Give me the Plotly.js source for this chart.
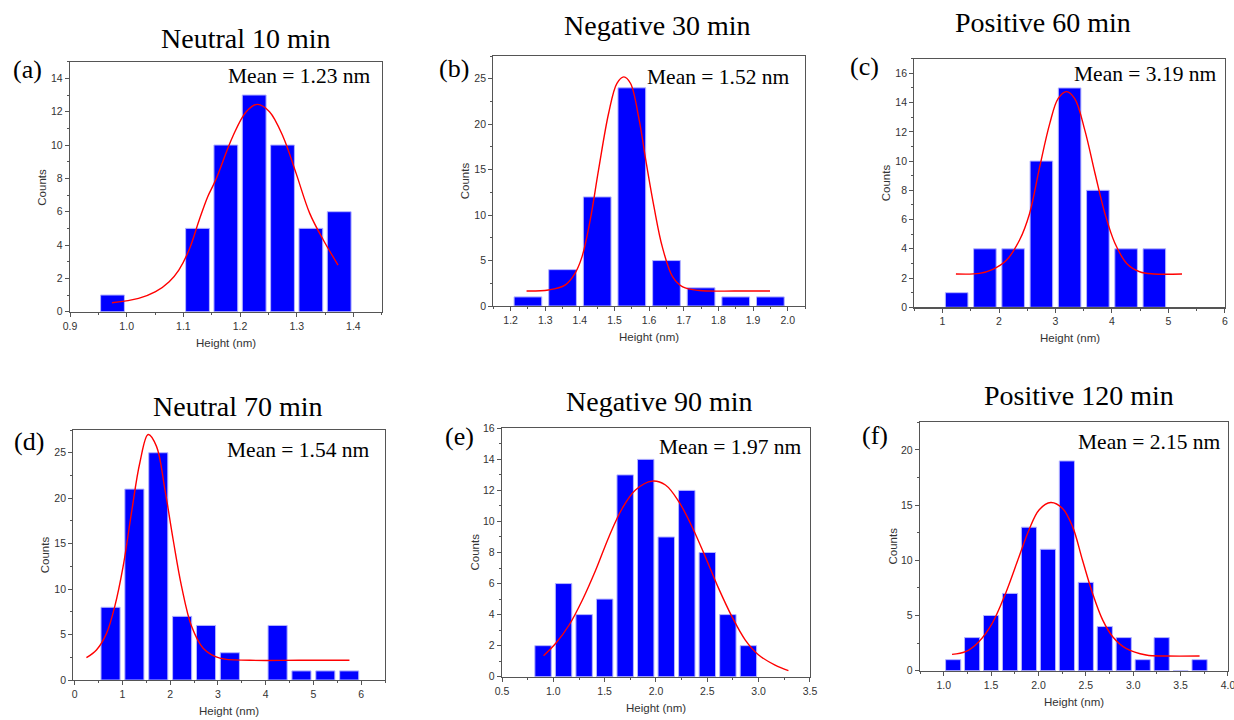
<!DOCTYPE html>
<html>
<head>
<meta charset="utf-8">
<script src="https://cdn.plot.ly/plotly-3.0.1.min.js"></script>
<style>html,body{margin:0;padding:0;background:#fff;}#chart{width:1234px;height:720px;}</style>
</head>
<body>
<div id="chart"></div>
<script>
// ---------- DATA ----------
const panelTitles = ["Neutral 10 min", "Negative 30 min", "Positive 60 min", "Neutral 70 min", "Negative 90 min", "Positive 120 min"];
const panelLetters = ["(a)", "(b)", "(c)", "(d)", "(e)", "(f)"];
const meanLabels = ["Mean = 1.23 nm", "Mean = 1.52 nm", "Mean = 3.19 nm", "Mean = 1.54 nm", "Mean = 1.97 nm", "Mean = 2.15 nm"];

const binsA = [0.975, 1.125, 1.175, 1.225, 1.275, 1.325, 1.375];
const countsA = [1, 5, 10, 13, 10, 5, 6];
const fitXA = [0.974, 1.021, 1.051, 1.075, 1.092, 1.11, 1.128, 1.143, 1.157, 1.187, 1.211, 1.231, 1.252, 1.276, 1.299, 1.323, 1.347, 1.373];
const fitYA = [0.54, 0.80, 1.2, 1.8, 2.5, 3.7, 5.5, 6.9, 7.9, 10.5, 12.0, 12.44, 12.0, 10.5, 8.3, 5.9, 4.3, 2.8];

const binsB = [1.25, 1.35, 1.45, 1.55, 1.65, 1.75, 1.85, 1.95];
const countsB = [1, 4, 12, 24, 5, 2, 1, 1];
const fitXB = [1.246, 1.309, 1.357, 1.386, 1.406, 1.43, 1.454, 1.483, 1.507, 1.527, 1.546, 1.571, 1.59, 1.614, 1.638, 1.668, 1.697, 1.745, 1.85, 1.949];
const fitYB = [1.65, 1.76, 2.3, 3.6, 5.4, 9.5, 15.0, 21.2, 24.5, 25.2, 24.5, 20.5, 16.1, 10.9, 6.5, 3.2, 2.1, 1.7, 1.65, 1.65];

const binsC = [1.25, 1.75, 2.25, 2.75, 3.25, 3.75, 4.25, 4.75];
const countsC = [1, 4, 4, 10, 15, 8, 4, 4];
const fitXC = [1.237, 1.652, 1.89, 2.127, 2.364, 2.54, 2.72, 2.898, 3.046, 3.195, 3.34, 3.52, 3.70, 3.876, 4.05, 4.26, 4.49, 4.74, 5.24];
const fitYC = [2.28, 2.32, 2.6, 3.2, 4.6, 6.4, 9.6, 12.56, 14.27, 14.75, 14.27, 12.1, 9.15, 6.4, 4.4, 3.0, 2.43, 2.28, 2.28];

const binsD = [0.75, 1.25, 1.75, 2.25, 2.75, 3.25, 4.25, 4.75, 5.25, 5.75];
const countsD = [8, 21, 25, 7, 6, 3, 6, 1, 1, 1];
const fitXD = [0.245, 0.455, 0.664, 0.839, 1.014, 1.189, 1.364, 1.538, 1.713, 1.888, 2.063, 2.238, 2.448, 2.69, 3.04, 3.67, 4.7, 5.755];
const fitYD = [2.46, 3.3, 5.1, 8.1, 12.5, 18.4, 23.9, 27.0, 25.7, 21.0, 15.4, 10.3, 5.9, 3.5, 2.4, 2.17, 2.17, 2.17];

const binsE = [0.9, 1.1, 1.3, 1.5, 1.7, 1.9, 2.1, 2.3, 2.5, 2.7, 2.9];
const countsE = [2, 6, 4, 5, 13, 14, 9, 12, 8, 4, 2];
const fitXE = [0.905, 1.024, 1.154, 1.283, 1.413, 1.542, 1.672, 1.80, 1.963, 2.092, 2.222, 2.351, 2.48, 2.61, 2.74, 2.87, 3.0, 3.16, 3.29];
const fitYE = [1.35, 2.15, 3.33, 4.94, 6.87, 9.02, 10.85, 12.03, 12.6, 12.35, 11.28, 9.66, 7.73, 5.69, 3.87, 2.36, 1.4, 0.75, 0.39];

const binsF = [1.1, 1.3, 1.5, 1.7, 1.9, 2.1, 2.3, 2.5, 2.7, 2.9, 3.1, 3.3, 3.5, 3.7];
const countsF = [1, 3, 5, 7, 13, 11, 19, 8, 4, 3, 1, 3, 0, 1];
const fitXF = [1.088, 1.23, 1.371, 1.512, 1.653, 1.794, 1.90, 2.006, 2.13, 2.254, 2.36, 2.465, 2.571, 2.677, 2.783, 2.924, 3.136, 3.348, 3.70];
const fitYF = [1.48, 1.72, 2.63, 4.29, 7.0, 10.3, 12.75, 14.56, 15.23, 14.7, 13.05, 10.0, 7.0, 4.6, 3.08, 2.02, 1.42, 1.33, 1.33];

// ---------- LAYOUT / STYLE ----------
const W = 1234, H = 720;
const frames = [ // [left, right, top, bottom] in page pixels
  [70, 381.7, 61.7, 311.7],
  [493.3, 805, 56, 306],
  [914.3, 1225, 58.7, 307.3],
  [73.3, 385, 430, 680],
  [502, 810, 428.3, 676.7],
  [920, 1228, 422.3, 670.7]
];
const panels = [
  {bins: binsA, counts: countsA, fx: fitXA, fy: fitYA, bw: 0.042, xr: [0.9, 1.45], xd: 0.1, xt0: 0.9, xm: 0.05, xf: '.1f', yr: [0, 15], yd: 2, ym: 1},
  {bins: binsB, counts: countsB, fx: fitXB, fy: fitYB, bw: 0.08, xr: [1.15, 2.05], xd: 0.1, xt0: 1.2, xm: 0.05, xf: '.1f', yr: [0, 27.5], yd: 5, ym: 2.5},
  {bins: binsC, counts: countsC, fx: fitXC, fy: fitYC, bw: 0.4, xr: [0.5, 6.001], xd: 1, xt0: 1, xm: 0.5, xf: 'd', yr: [0, 17], yd: 2, ym: 1},
  {bins: binsD, counts: countsD, fx: fitXD, fy: fitYD, bw: 0.4, xr: [-0.03, 6.5], xd: 1, xt0: 0, xm: 0.5, xf: 'd', yr: [0, 27.5], yd: 5, ym: 2.5},
  {bins: binsE, counts: countsE, fx: fitXE, fy: fitYE, bw: 0.16, xr: [0.5, 3.5001], xd: 0.5, xt0: 0.5, xm: 0.25, xf: '.1f', yr: [0, 16.001], yd: 2, ym: 1},
  {bins: binsF, counts: countsF, fx: fitXF, fy: fitYF, bw: 0.16, xr: [0.75, 4.0001], xd: 0.5, xt0: 1.0, xm: 0.25, xf: '.1f', yr: [0, 22.5], yd: 5, ym: 2.5}
];
const titlePos = [[246, 38], [657, 26], [1043, 22], [238, 406], [659, 401], [1079, 395]];
const letterPos = [[27, 70], [454, 68], [864, 66], [29, 441], [459, 437], [875, 435]];
const meanPos = [[373, 76], [792, 77], [1219, 74], [372, 450], [804, 447], [1223, 442]];

const serif = "Liberation Serif, Times New Roman, serif";
const sans = "Liberation Sans, Arial, sans-serif";
const axisColor = "#555";
const tickColor = "#333";

const traces = [];
const layout = {
  width: W, height: H,
  margin: {l: 0, r: 0, t: 0, b: 0},
  paper_bgcolor: "#fff", plot_bgcolor: "#fff",
  showlegend: false,
  bargap: 0,
  annotations: []
};

panels.forEach((p, i) => {
  const n = i === 0 ? '' : String(i + 1);
  const xa = 'x' + n, ya = 'y' + n;
  const f = frames[i];
  traces.push({
    type: 'bar', x: p.bins, y: p.counts, width: p.bw, xaxis: xa, yaxis: ya,
    marker: {color: '#0000ff', line: {color: '#b4b4ff', width: 1}},
    hoverinfo: 'skip'
  });
  traces.push({
    type: 'scatter', mode: 'lines', x: p.fx, y: p.fy, xaxis: xa, yaxis: ya,
    line: {color: '#ff0000', width: 1.4, shape: 'spline', smoothing: 1.0},
    hoverinfo: 'skip'
  });
  const common = {
    showline: true, linecolor: axisColor, linewidth: 1.2, mirror: true,
    showgrid: false, zeroline: false, ticks: 'outside', ticklen: 4, tickwidth: 1, tickcolor: axisColor,
    tickfont: {family: sans, size: 10.5, color: tickColor}, fixedrange: true,
    ticklabeloverflow: 'allow'
  };
  layout['xaxis' + n] = Object.assign({}, common, {
    domain: [f[0] / W, f[1] / W], anchor: ya, range: p.xr,
    tick0: p.xt0, dtick: p.xd, tickformat: p.xf,
    minor: {ticks: 'outside', ticklen: 2, tickcolor: axisColor, dtick: p.xm, tick0: p.xt0, showgrid: false}
  });
  layout['yaxis' + n] = Object.assign({}, common, {
    domain: [1 - f[3] / H, 1 - f[2] / H], anchor: xa, range: p.yr,
    tick0: 0, dtick: p.yd,
    minor: {ticks: 'outside', ticklen: 2, tickcolor: axisColor, dtick: p.ym, tick0: 0, showgrid: false}
  });
  layout.annotations.push({
    xref: 'paper', yref: 'paper', x: (f[0] + f[1]) / 2 / W, y: 1 - (f[3] + 31) / H,
    text: 'Height (nm)', showarrow: false, xanchor: 'center', yanchor: 'middle',
    font: {family: sans, size: 11.5, color: tickColor}
  });
  layout.annotations.push({
    xref: 'paper', yref: 'paper', x: (f[0] - 28) / W, y: 1 - (f[2] + f[3]) / 2 / H,
    text: 'Counts', textangle: -90, showarrow: false, xanchor: 'center', yanchor: 'middle',
    font: {family: sans, size: 11.5, color: tickColor}
  });
  layout.annotations.push({
    xref: 'paper', yref: 'paper', x: titlePos[i][0] / W, y: 1 - titlePos[i][1] / H,
    text: panelTitles[i], showarrow: false, xanchor: 'center', yanchor: 'middle',
    font: {family: serif, size: 28, color: '#000'}
  });
  layout.annotations.push({
    xref: 'paper', yref: 'paper', x: letterPos[i][0] / W, y: 1 - letterPos[i][1] / H,
    text: panelLetters[i], showarrow: false, xanchor: 'center', yanchor: 'middle',
    font: {family: serif, size: 26, color: '#000'}
  });
  layout.annotations.push({
    xref: 'paper', yref: 'paper', x: meanPos[i][0] / W, y: 1 - meanPos[i][1] / H,
    text: meanLabels[i], showarrow: false, xanchor: 'right', yanchor: 'middle',
    font: {family: serif, size: 21.5, color: '#000'}
  });
});

Plotly.newPlot('chart', traces, layout, {staticPlot: true, displayModeBar: false});
</script>
</body>
</html>
